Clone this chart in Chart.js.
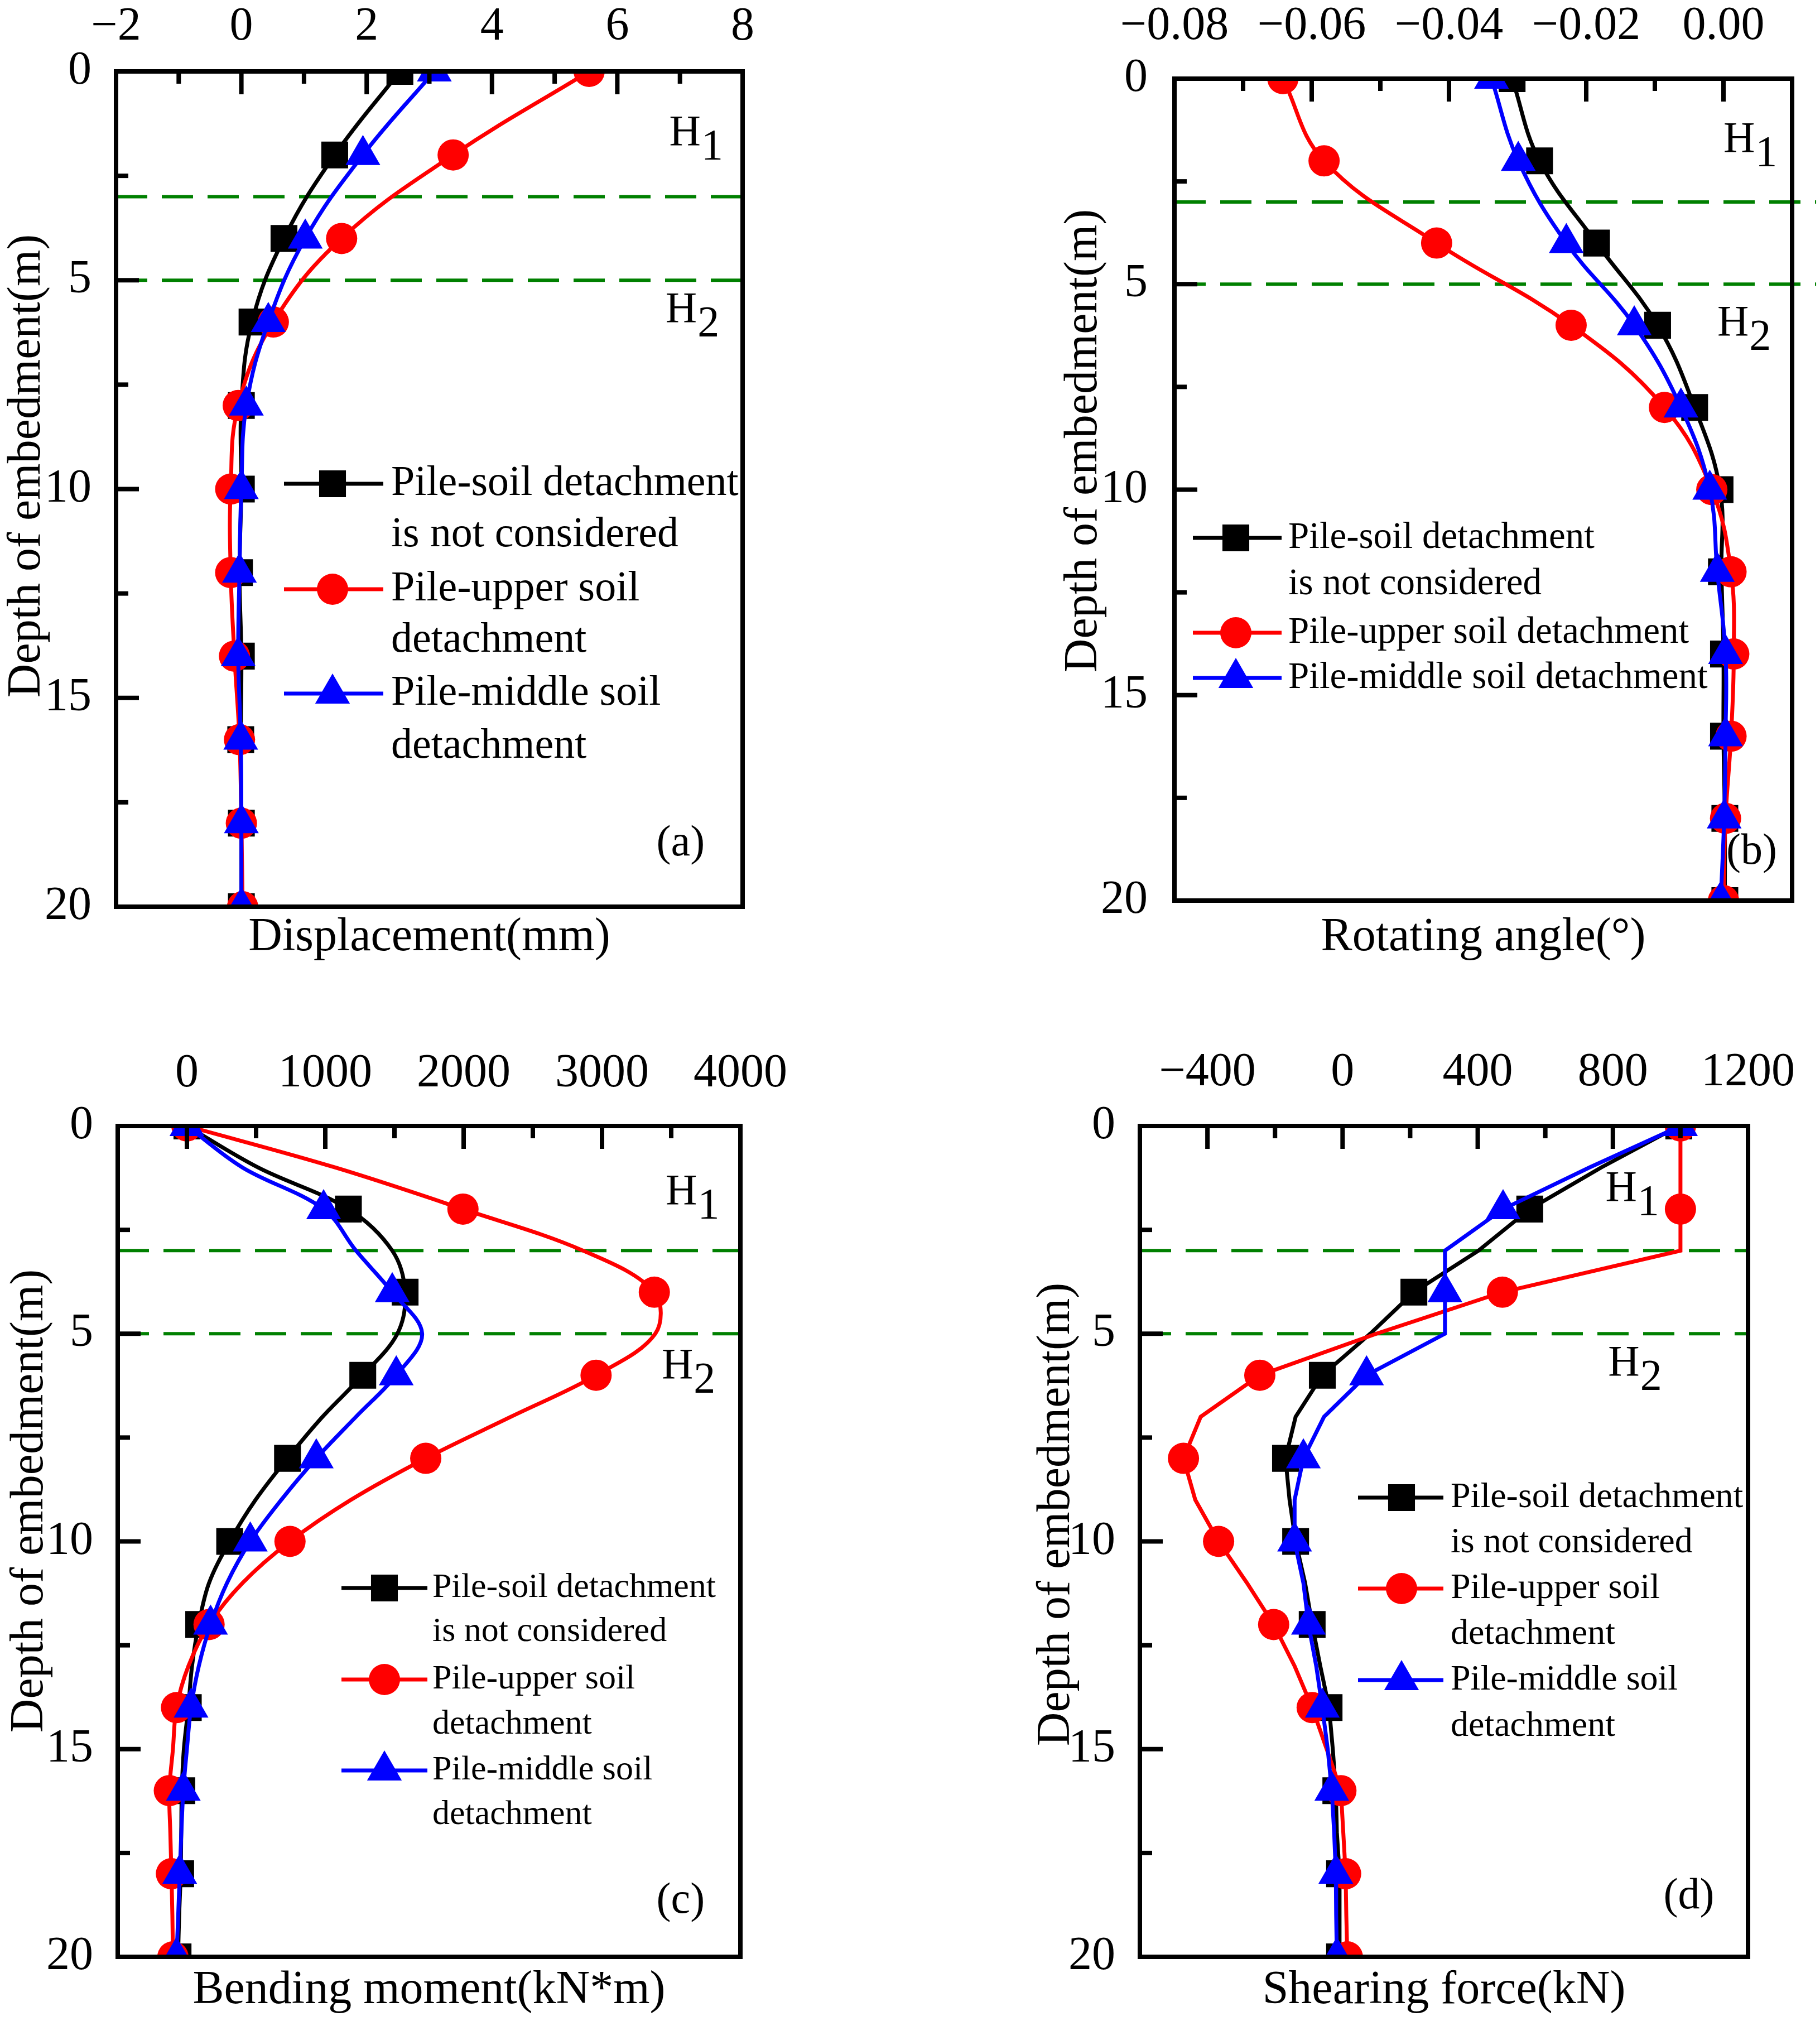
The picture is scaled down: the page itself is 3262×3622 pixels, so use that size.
<!DOCTYPE html>
<html><head><meta charset="utf-8">
<script src="https://cdn.jsdelivr.net/npm/chart.js@4.4.1/dist/chart.umd.min.js"></script>
<style>
html,body{margin:0;padding:0;background:#fff;}
#wrap{position:relative;width:3262px;height:3622px;background:#fff;overflow:hidden;}
canvas{position:absolute;}
</style></head><body>
<div id="wrap">
<canvas id="ca" width="1631" height="1811" style="left:0px;top:0px"></canvas>
<canvas id="cb" width="1631" height="1811" style="left:1631px;top:0px"></canvas>
<canvas id="cc" width="1631" height="1811" style="left:0px;top:1811px"></canvas>
<canvas id="cd" width="1631" height="1811" style="left:1631px;top:1811px"></canvas>
</div>
<script>
const FONT = '"Liberation Serif","Times New Roman",Times,serif';

// ---------- data ----------
const depthCoarse = [0,2,4,6,8,10,12,14,16,18,20];
const depthFine = [0,1,2,3,4,5,6,7,8,9,10,11,12,13,14,15,16,17,18,19,20];
const markerDepths = [0,2,4,6,8,10,12,14,16,18,20];
const layerDepths = [3,5];
const yTicks = [0,5,10,15,20];

// (a) displacement (mm)
const aXTicks = [-2,0,2,4,6,8];
const dispNone   = [2.53,1.49,0.68,0.17,0.00,0.00,-0.03,0.00,-0.01,0.00,0.00];
const dispUpper  = [5.55,3.38,1.60,0.51,-0.05,-0.17,-0.17,-0.11,-0.03,0.00,0.02];
const dispMiddle = [3.08,1.94,1.02,0.43,0.08,0.00,-0.03,-0.05,-0.01,0.00,0.00];

// (b) rotating angle (deg)
const bXTicks = [-0.08,-0.06,-0.04,-0.02,0.00];
const rotNone   = [-0.0308,-0.0268,-0.0185,-0.0096,-0.0042,-0.0005,-0.0003,0.0000,0.0000,0.0002,0.0002];
const rotUpper  = [-0.0642,-0.0582,-0.0418,-0.0222,-0.0086,-0.0017,0.0011,0.0015,0.0011,0.0003,0.0000];
const rotMiddle = [-0.0338,-0.0299,-0.0229,-0.0130,-0.0062,-0.0020,-0.0009,0.0003,0.0003,0.0001,-0.0004];

// (c) bending moment (kN*m)
const cXTicks = [0,1000,2000,3000,4000];
const momNone   = [0,515,1167,1484,1577,1521,1271,980,727,496,309,160,85,37,10,-22,-37,-41,-45,-56,-64];
const momUpper  = [0,1073,1995,2863,3378,3385,2957,2341,1726,1185,745,402,160,11,-75,-101,-127,-120,-112,-105,-101];
const momMiddle = [0,402,988,1222,1484,1700,1513,1222,935,682,458,290,171,86,30,0,-26,-40,-52,-63,-75];

// (d) shearing force (kN)
const dXTicks = [-400,0,400,800,1200];
const shearNone   = [995,765,554,402,211,82,-60,-139,-169,-157,-139,-111,-90,-66,-40,-29,-20,-17,-9,-9,-9];
const shearUpper  = [1000,1000,1000,1000,473,100,-245,-420,-471,-436,-367,-283,-204,-142,-90,-47,-5,2,9,11,14];
const shearMiddle = [1000,730,475,303,303,303,71,-55,-116,-142,-142,-116,-101,-78,-60,-44,-32,-25,-20,-19,-17];

const legendWrapped = [['Pile-soil detachment','is not considered'],['Pile-upper soil','detachment'],['Pile-middle soil','detachment']];
const legendWide = [['Pile-soil detachment','is not considered'],['Pile-upper soil detachment'],['Pile-middle soil detachment']];
const yTitleText = 'Depth of embedment(m)';

// ---------- styles ----------
const seriesStyle = [
  {color:'#000000', pointStyle:'rect', radius:34, order:2},
  {color:'#ff0000', pointStyle:'circle', radius:28, order:1},
  {color:'#0000ff', pointStyle:'triangle', radius:36, order:0}
];
const minus = s => String(s).replace('-', '\u2212');
const fmtInt = v => minus(Math.round(v));
const fmt2 = v => minus((Math.abs(v) < 1e-9 ? 0 : v).toFixed(2));

function drawMarker(ctx, st, x, y) {
  const r = st.radius;
  ctx.fillStyle = st.color;
  ctx.beginPath();
  if (st.pointStyle === 'rect') {
    const s = r * Math.SQRT1_2;
    ctx.rect(x - s, y - s, 2 * s, 2 * s);
  } else if (st.pointStyle === 'circle') {
    ctx.arc(x, y, r, 0, Math.PI * 2);
  } else {
    let a = 0;
    ctx.moveTo(x + Math.sin(a) * r, y - Math.cos(a) * r);
    a += Math.PI * 2 / 3;
    ctx.lineTo(x + Math.sin(a) * r, y - Math.cos(a) * r);
    a += Math.PI * 2 / 3;
    ctx.lineTo(x + Math.sin(a) * r, y - Math.cos(a) * r);
    ctx.closePath();
  }
  ctx.fill();
}

function makeOverlay(P) {
  return {
    id: 'overlay_' + P.id,
    afterDraw(chart) {
      const ctx = chart.ctx;
      const A = chart.chartArea;
      const xs = chart.scales.x, ys = chart.scales.y;
      const ox = P.origin[0], oy = P.origin[1];
      ctx.save();
      // frame
      ctx.strokeStyle = '#000';
      ctx.lineWidth = 8;
      ctx.lineJoin = 'miter';
      ctx.strokeRect(A.left, A.top, A.right - A.left, A.bottom - A.top);
      // inward ticks
      ctx.lineCap = 'butt';
      const tickSet = (scale, horizontal) => {
        const majors = scale.ticks.map(t => t.value);
        const step = majors[1] - majors[0];
        const minors = majors.map(v => v - step / 2);
        minors.push(majors[majors.length - 1] + step / 2);
        const lo = Math.min(scale.min, scale.max), hi = Math.max(scale.min, scale.max);
        const eps = Math.abs(step) * 1e-3;
        const mk = (v, len) => {
          if (v <= lo + eps || v >= hi - eps) return;
          const p = scale.getPixelForValue(v);
          ctx.beginPath();
          if (horizontal) { ctx.moveTo(p, A.top); ctx.lineTo(p, A.top + len); }
          else { ctx.moveTo(A.left, p); ctx.lineTo(A.left + len, p); }
          ctx.stroke();
        };
        majors.forEach(v => mk(v, 41));
        minors.forEach(v => mk(v, 22));
      };
      tickSet(xs, true);
      tickSet(ys, false);

      ctx.fillStyle = '#000';
      // y title (rotated)
      ctx.font = '84px ' + FONT;
      ctx.save();
      ctx.translate(P.yTitle[0] - ox, P.yTitle[1] - oy);
      ctx.rotate(-Math.PI / 2);
      ctx.textAlign = 'center';
      ctx.textBaseline = 'middle';
      ctx.fillText(yTitleText, 0, 0);
      ctx.restore();

      // H labels
      ctx.font = '78px ' + FONT;
      ctx.textAlign = 'left';
      ctx.textBaseline = 'alphabetic';
      P.hLabels.forEach(h => {
        const px = xs.getPixelForValue(h.x), py = ys.getPixelForValue(h.y);
        ctx.fillText('H', px, py);
        const w = ctx.measureText('H').width;
        ctx.fillText(h.sub, px + w + 1, py + 25);
      });
      // panel letter
      ctx.textAlign = 'center';
      ctx.textBaseline = 'middle';
      ctx.fillText(P.letter.text, xs.getPixelForValue(P.letter.x), ys.getPixelForValue(P.letter.y));

      // legend
      const L = P.legend;
      ctx.font = L.font + 'px ' + FONT;
      ctx.textAlign = 'left';
      ctx.textBaseline = 'middle';
      let row = 0;
      L.lines.forEach((lines, i) => {
        const st = seriesStyle[i];
        const ry = L.rows[L.entryRows[i]] - oy;
        ctx.strokeStyle = st.color;
        ctx.lineWidth = 7;
        ctx.beginPath();
        ctx.moveTo(L.x0 - ox, ry);
        ctx.lineTo(L.x1 - ox, ry);
        ctx.stroke();
        drawMarker(ctx, st, L.xm - ox, ry);
        ctx.fillStyle = '#000';
        lines.forEach((t, k) => {
          ctx.fillText(t, L.xt - ox, L.rows[L.entryRows[i] + k] - oy);
        });
      });
      ctx.restore();
    }
  };
}

function makeChart(P) {
  const datasets = [];
  layerDepths.forEach(d => {
    datasets.push({
      data: P.layerX.map(x => ({x: x, y: d})),
      borderColor: '#008000', backgroundColor: '#008000', borderWidth: 6,
      borderDash: [56, 26], pointRadius: 0, tension: 0, order: 10,
      clip: P.layerClip, fill: false
    });
  });
  P.series.forEach((vals, i) => {
    const st = seriesStyle[i];
    datasets.push({
      label: 's' + i,
      data: vals.map((v, k) => ({x: v, y: P.depths[k]})),
      borderColor: st.color, backgroundColor: st.color, borderWidth: 7,
      pointStyle: st.pointStyle,
      pointRadius: c => (c.raw && markerDepths.includes(c.raw.y)) ? st.radius : 0,
      pointHoverRadius: 0,
      pointBackgroundColor: st.color, pointBorderColor: st.color, pointBorderWidth: 0,
      tension: P.tension, order: st.order, clip: 0, fill: false
    });
  });
  const tickFont = {family: FONT, size: 84, lineHeight: 1.2};
  return new Chart(document.getElementById(P.id), {
    type: 'line',
    data: {datasets},
    options: {
      responsive: false, animation: false, devicePixelRatio: 1, events: [],
      indexAxis: 'y',
      layout: {autoPadding: false, padding: {left: 0, top: 0, right: P.m.right, bottom: 0}},
      plugins: {legend: {display: false}, tooltip: {enabled: false}},
      scales: {
        x: {
          type: 'linear', position: 'top', min: P.xMin, max: P.xMax,
          afterBuildTicks: s => { s.ticks = P.xTicks.map(v => ({value: v})); },
          afterFit: s => { s.height = P.m.top; },
          grid: {display: false, drawTicks: false}, border: {display: false},
          ticks: {autoSkip: false, maxRotation: 0, minRotation: 0, padding: P.topPad,
                  color: '#000', font: tickFont, callback: P.fmt}
        },
        y: {
          type: 'linear', position: 'left', reverse: true, min: 0, max: 20,
          afterBuildTicks: s => { s.ticks = yTicks.map(v => ({value: v})); },
          afterFit: s => { s.width = P.m.left; },
          grid: {display: false, drawTicks: false}, border: {display: false},
          ticks: {autoSkip: false, padding: P.leftPad, color: '#000', font: tickFont,
                  callback: v => String(v)}
        },
        x2: {
          type: 'linear', position: 'bottom', min: P.xMin, max: P.xMax,
          afterFit: s => { s.height = P.m.bottom; },
          grid: {display: false, drawTicks: false}, border: {display: false},
          ticks: {display: false},
          title: {display: true, text: P.xTitle, color: '#000', font: tickFont,
                  padding: {top: 0, bottom: P.xTitlePad}}
        }
      }
    },
    plugins: [makeOverlay(P)]
  });
}

const panels = [
  {id: 'ca', origin: [0, 0], m: {left: 208, top: 128, right: 300, bottom: 186},
   xMin: -2, xMax: 8, xTicks: aXTicks, fmt: fmtInt, xTitle: 'Displacement(mm)', xTitlePad: 80,
   topPad: 29, leftPad: 44, series: [dispNone, dispUpper, dispMiddle], depths: depthCoarse,
   tension: 0.4, layerX: [-2, 8], layerClip: 0, yTitle: [49, 835],
   legend: {x0: 509, x1: 687, xm: 596, xt: 701, rows: [867, 959, 1056, 1148, 1243, 1338], entryRows: [0, 2, 4], font: 76, lines: legendWrapped},
   hLabels: [{x: 6.83, y: 1.76, sub: '1'}, {x: 6.77, y: 6.0, sub: '2'}], letter: {x: 7.01, y: 18.5, text: '(a)'}},
  {id: 'cb', origin: [1631, 0], m: {left: 474, top: 141, right: 50, bottom: 197},
   xMin: -0.08, xMax: 0.01, xTicks: bXTicks, fmt: fmt2, xTitle: 'Rotating angle(°)', xTitlePad: 80,
   topPad: 43, leftPad: 48, series: [rotNone, rotUpper, rotMiddle], depths: depthCoarse,
   tension: 0.4, layerX: [-0.08, 0.0135], layerClip: false, yTitle: [1943, 790],
   legend: {x0: 2138, x1: 2297, xm: 2215, xt: 2309, rows: [964, 1047, 1134, 1215], entryRows: [0, 2, 3], font: 67, lines: legendWide},
   hLabels: [{x: 0.0, y: 1.78, sub: '1'}, {x: -0.0009, y: 6.25, sub: '2'}], letter: {x: 0.0041, y: 18.83, text: '(b)'}},
  {id: 'cc', origin: [0, 1811], m: {left: 211, top: 207, right: 304, bottom: 115},
   xMin: -500, xMax: 4000, xTicks: cXTicks, fmt: fmtInt, xTitle: 'Bending moment(kN*m)', xTitlePad: 4,
   topPad: 43, leftPad: 44, series: [momNone, momUpper, momMiddle], depths: depthFine,
   tension: 0.35, layerX: [-500, 4000], layerClip: 0, yTitle: [54, 2690],
   legend: {x0: 612, x1: 766, xm: 689, xt: 775, rows: [2846, 2925, 3010, 3091, 3173, 3253], entryRows: [0, 2, 4], font: 62, lines: legendWrapped},
   hLabels: [{x: 3460, y: 1.88, sub: '1'}, {x: 3431, y: 6.07, sub: '2'}], letter: {x: 3568, y: 18.67, text: '(c)'}},
  {id: 'cd', origin: [1631, 1811], m: {left: 412, top: 207, right: 104, bottom: 115},
   xMin: -600, xMax: 1200, xTicks: dXTicks, fmt: fmtInt, xTitle: 'Shearing force(kN)', xTitlePad: 4,
   topPad: 45, leftPad: 44, series: [shearNone, shearUpper, shearMiddle], depths: depthFine,
   tension: 0, layerX: [-600, 1200], layerClip: 0, yTitle: [1894, 2714],
   legend: {x0: 2434, x1: 2587, xm: 2512, xt: 2600, rows: [2684, 2765, 2847, 2929, 3011, 3094], entryRows: [0, 2, 4], font: 64, lines: legendWrapped},
   hLabels: [{x: 778, y: 1.8, sub: '1'}, {x: 786, y: 6.0, sub: '2'}], letter: {x: 1025, y: 18.55, text: '(d)'}}
];

panels.forEach(makeChart);
</script>
</body></html>
